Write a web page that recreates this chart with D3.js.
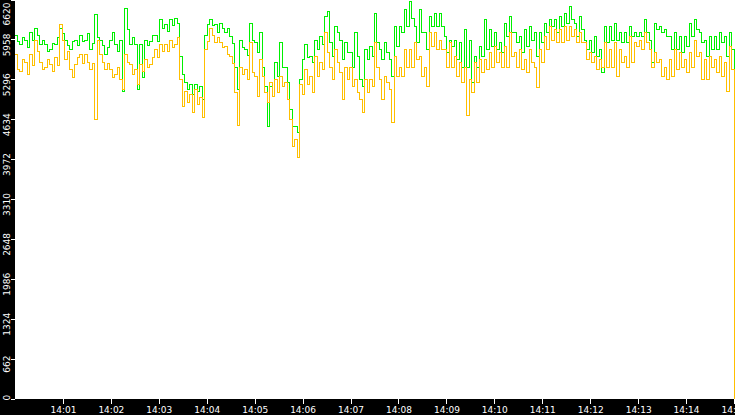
<!DOCTYPE html>
<html>
<head>
<meta charset="utf-8">
<script src="https://cdn.jsdelivr.net/npm/d3@7"></script>
<style>
  body { margin: 0; background: #000; }
  svg { display: block; }
  .axis text { fill: #fff; font-family: "DejaVu Sans", sans-serif; font-size: 9px; }
  .axis line { stroke: #fff; }
</style>
</head>
<body>
<div id="chart"></div>
<script>
// samples every 3.125 s starting 14:00:00, last sample is the drop at 14:15:00
var sampleMs = 3125;
var startTime = new Date(2000, 0, 1, 14, 0, 0);

var yTicks = [0, 662, 1324, 1986, 2648, 3310, 3972, 4634, 5296, 5958, 6620];
var xTickLabels = ["14:01", "14:02", "14:03", "14:04", "14:05", "14:06", "14:07", "14:08",
                   "14:09", "14:10", "14:11", "14:12", "14:13", "14:14", "14:15"];

var greenValues = [
  6015, 5915, 5866, 5982, 5948, 5816, 6065, 5948, 6147, 6031, 5866, 5948, 5866, 5749, 5783, 5882,
  5866, 5982, 6147, 6048, 5948, 5849, 5783, 5915, 5948, 5849, 6031, 5915, 5948, 6048, 5783, 5882,
  6363, 5982, 5948, 5849, 5700, 5816, 5948, 6065, 5866, 5749, 5948, 5086, 6463, 6114, 5866, 5982,
  5866, 5119, 5866, 5318, 5948, 5849, 5915, 6015, 6031, 5915, 6280, 6147, 6197, 6081, 6280, 6181,
  6313, 6214, 5666, 5368, 5235, 5119, 5202, 5036, 5202, 5086, 5169, 4953, 6031, 6197, 6280, 6181,
  6197, 6065, 6230, 6147, 6065, 6147, 5998, 5882, 5500, 5119, 5948, 5816, 5783, 5683, 6230, 5948,
  5899, 5733, 6065, 5500, 5169, 4505, 5169, 5003, 5567, 5335, 5899, 5500, 5500, 5235, 4787, 4505,
  4505, 4406, 5285, 5617, 5866, 5650, 5666, 5567, 5948, 5783, 5998, 5866, 6330, 6413, 5899, 5666,
  6164, 6065, 5948, 5617, 5899, 5733, 5733, 5500, 6065, 5666, 5285, 5169, 5783, 5617, 5832, 5666,
  6396, 5899, 5783, 5617, 5899, 5733, 5617, 5335, 6164, 5832, 6164, 6065, 6446, 6164, 6579, 6313,
  6164, 5899, 6446, 6065, 6065, 5783, 6330, 6164, 6396, 6164, 6396, 6164, 5998, 5733, 5948, 5832,
  5948, 5617, 5899, 5500, 6114, 5500, 5948, 5235, 5666, 5500, 5832, 5666, 6280, 5783, 6114, 5832,
  6065, 5783, 5899, 5733, 6230, 5998, 6330, 6065, 6065, 5899, 5998, 5733, 6114, 5832, 6164, 5948,
  6065, 5666, 6065, 5899, 6230, 6065, 6280, 6164, 6280, 6065, 6330, 6164, 6396, 6230, 6496, 6280,
  6230, 5998, 6330, 6114, 5948, 5783, 5948, 5733, 5998, 5666, 5783, 5401, 6164, 5899, 6164, 5948,
  6230, 5948, 6065, 5899, 6065, 5899, 6164, 5998, 6065, 5998, 6065, 5998, 6280, 6065, 5948, 5567,
  6230, 6114, 6164, 6065, 6114, 5998, 5998, 5783, 6065, 5783, 5998, 5733, 5998, 5832, 6230, 5998,
  6280, 6114, 6065, 5899, 5948, 5666, 5998, 5783, 5998, 5783, 6065, 5899, 5998, 5666, 6065, 5783,
  2830
];

var orangeValues = [
  5700, 5451, 5418, 5617, 5583, 5368, 5700, 5517, 5948, 5749, 5583, 5451, 5484, 5617, 5534, 5418,
  5650, 5517, 6197, 5948, 5617, 5749, 5451, 5318, 5534, 5650, 5700, 5550, 5700, 5583, 5451, 5550,
  4621, 5948, 5700, 5583, 5451, 5550, 5451, 5318, 5368, 5484, 5285, 5119, 5700, 5583, 5534, 5368,
  5451, 5202, 5534, 5418, 5617, 5484, 5534, 5650, 5783, 5650, 5866, 5749, 5866, 5749, 5948, 5816,
  5866, 5982, 5285, 4837, 5086, 4903, 5036, 4737, 5119, 4870, 4986, 4654, 5783, 5915, 6147, 6015,
  5899, 5982, 5899, 5816, 5832, 5700, 5666, 5550, 5069, 4522, 5500, 5368, 5451, 5285, 5899, 5401,
  5335, 5003, 5617, 5335, 5069, 4903, 5235, 5003, 5285, 5069, 5335, 5169, 5235, 4953, 4621, 4173,
  4289, 3991, 5202, 5036, 5451, 5202, 5335, 5069, 5666, 5335, 5567, 5451, 6065, 5733, 5500, 5285,
  5783, 5567, 5401, 4953, 5500, 5285, 5500, 5169, 5285, 5069, 4953, 4737, 5285, 5069, 5285, 5169,
  5899, 5500, 5285, 4953, 5335, 5235, 5119, 4571, 5666, 5335, 5500, 5335, 5783, 5500, 5783, 5500,
  5899, 5617, 5666, 5335, 5500, 5169, 6065, 5832, 6065, 5783, 5948, 5783, 5783, 5500, 5899, 5500,
  5666, 5335, 5567, 5235, 5500, 4688, 5285, 5069, 5567, 5235, 5617, 5401, 5617, 5451, 5733, 5500,
  5832, 5567, 5733, 5500, 5832, 5500, 6065, 5666, 5733, 5500, 5783, 5451, 5617, 5401, 5783, 5567,
  5500, 5152, 5783, 5567, 5998, 5783, 6164, 5948, 6114, 5899, 6114, 5899, 6164, 5948, 6164, 5998,
  6114, 5899, 6065, 5899, 5899, 5617, 5733, 5567, 5666, 5451, 5617, 5500, 5899, 5500, 5783, 5500,
  5899, 5335, 5783, 5567, 5666, 5500, 5998, 5567, 5899, 5832, 5948, 5783, 6065, 5899, 5783, 5500,
  5733, 5567, 5617, 5335, 5500, 5285, 5617, 5335, 5783, 5451, 5733, 5500, 5617, 5401, 5733, 5500,
  5948, 5666, 5733, 5285, 5617, 5285, 5666, 5500, 5617, 5401, 5666, 5335, 5567, 5086, 5832, 5451,
  0
];

var width = 735, height = 415;
var plotLeft = 15, plotBottom = 399;

var svg = d3.select("#chart").append("svg")
    .attr("width", width)
    .attr("height", height);

svg.append("rect")
    .attr("width", width).attr("height", height)
    .attr("fill", "#000");

svg.append("rect")
    .attr("x", plotLeft).attr("y", 0)
    .attr("width", width - plotLeft).attr("height", plotBottom)
    .attr("fill", "#fff");

svg.append("clipPath").attr("id", "plotclip")
  .append("rect")
    .attr("x", plotLeft).attr("y", 0)
    .attr("width", width - plotLeft).attr("height", plotBottom);

var timeOf = function(i) { return new Date(startTime.getTime() + i * sampleMs); };
var endTime = timeOf(greenValues.length - 1);

var x = d3.scaleTime()
    .domain([startTime, endTime])
    .range([plotLeft, 734]);

var y = d3.scaleLinear()
    .domain([0, 6620])
    .range([398.5, -0.5]);

var line = d3.line()
    .x(function(d, i) { return x(timeOf(i)); })
    .y(function(d) { return y(d); })
    .curve(d3.curveStepAfter);

var lines = svg.append("g").attr("clip-path", "url(#plotclip)");

lines.append("path")
    .datum(greenValues)
    .attr("fill", "none")
    .attr("stroke", "#00f000")
    .attr("stroke-width", 1)
    .attr("shape-rendering", "crispEdges")
    .attr("d", line);

lines.append("path")
    .datum(orangeValues)
    .attr("fill", "none")
    .attr("stroke", "#ffbf00")
    .attr("stroke-width", 1)
    .attr("shape-rendering", "crispEdges")
    .attr("d", line);

// bottom axis
var parseHM = d3.timeParse("%H:%M");
var xTickDates = xTickLabels.map(function(s) {
  var t = parseHM(s);
  return new Date(2000, 0, 1, t.getHours(), t.getMinutes(), 0);
});

var xAxis = svg.append("g")
    .attr("class", "axis")
    .attr("transform", "translate(0," + plotBottom + ")")
    .call(d3.axisBottom(x).tickValues(xTickDates).tickFormat(d3.timeFormat("%H:%M")).tickSize(5).tickPadding(3));
xAxis.select(".domain").remove();
xAxis.selectAll("line").attr("shape-rendering", "crispEdges");

// left axis, labels rotated, sit a little below their tick and kept inside the band
var yAxis = svg.append("g")
    .attr("class", "axis")
    .attr("transform", "translate(" + plotLeft + ",0)")
    .call(d3.axisLeft(y).tickValues(yTicks).tickFormat(d3.format("d")).tickSize(4));
yAxis.select(".domain").remove();
yAxis.selectAll("line").attr("shape-rendering", "crispEdges");
yAxis.selectAll("text")
    .attr("x", null).attr("dy", null)
    .attr("text-anchor", "middle")
    .attr("transform", function(d) {
      var ty = y(d);
      var half = this.getComputedTextLength() / 2;
      var c = ty + 5;
      c = Math.max(c, 2 + half);
      c = Math.min(c, 400 - half);
      return "translate(-5," + (c - ty) + ") rotate(-90)";
    });
</script>
</body>
</html>
